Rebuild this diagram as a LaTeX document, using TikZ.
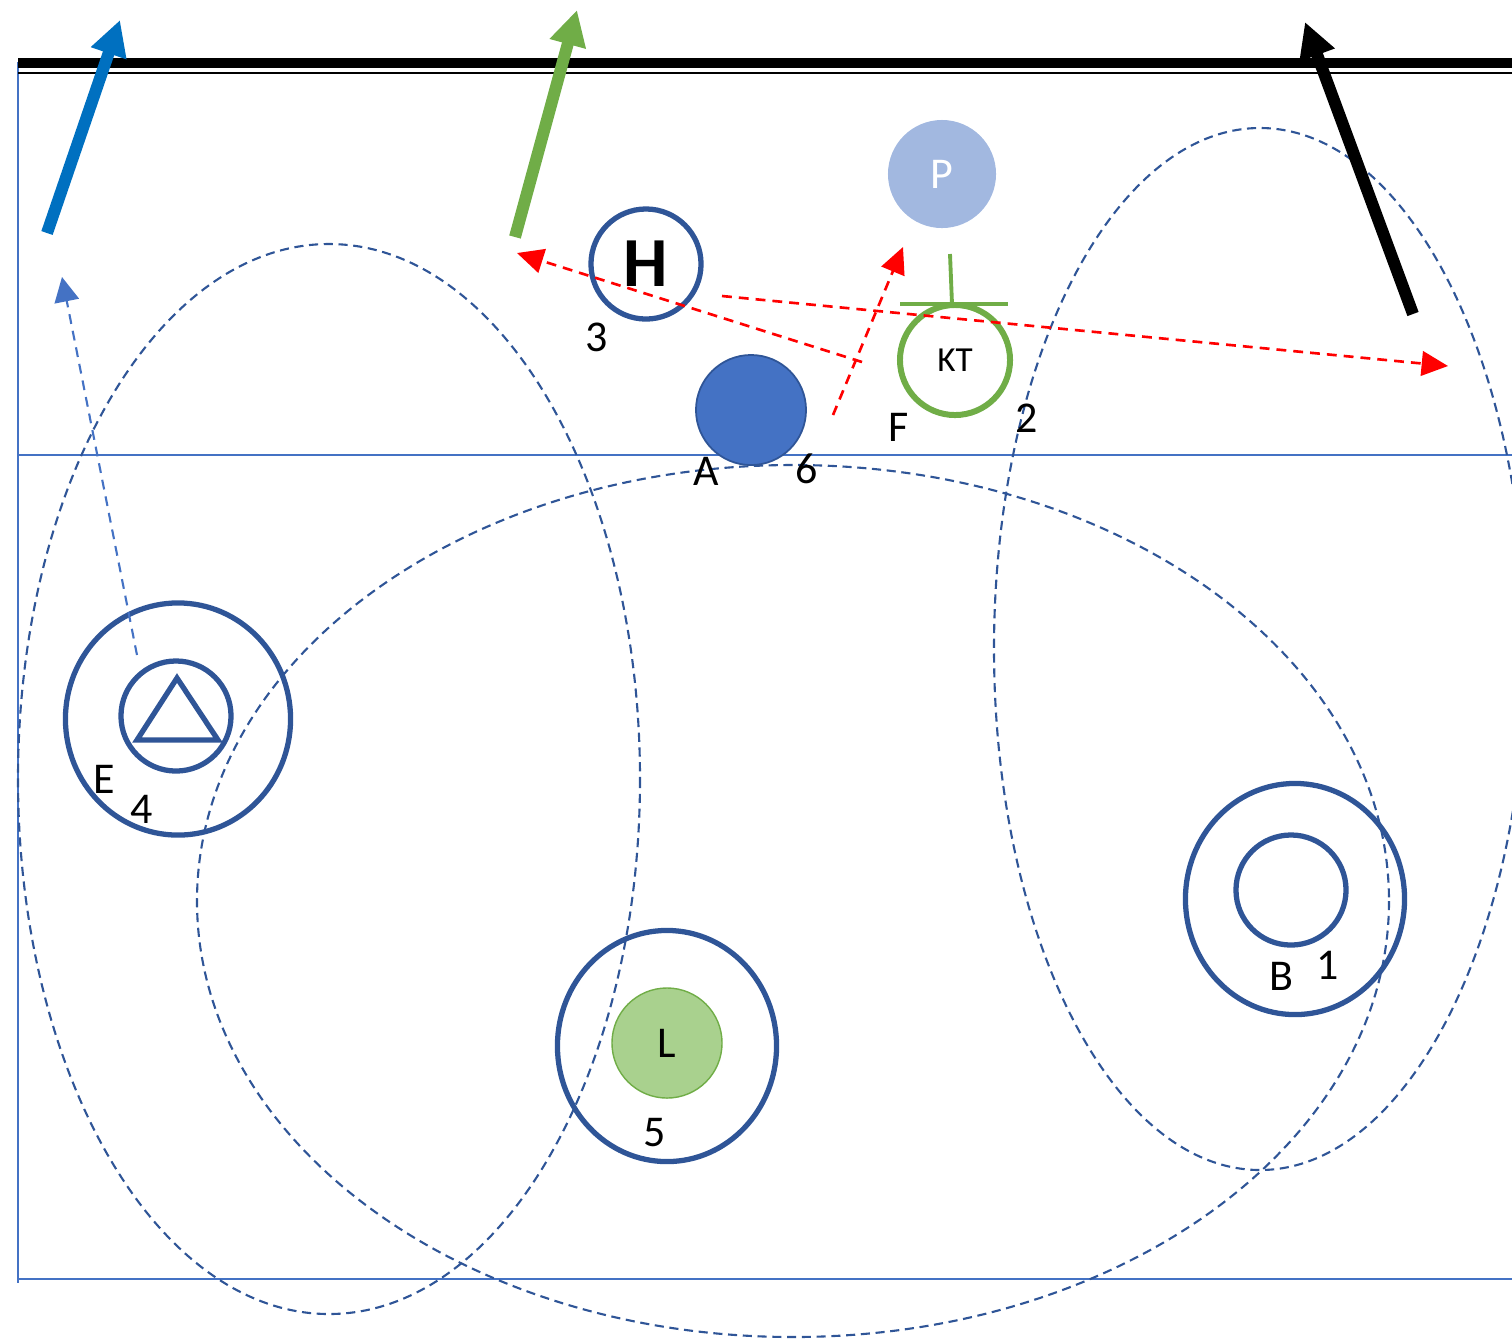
\documentclass[tikz,border=0pt]{standalone}
\usepackage{fontspec}
\setmainfont{Carlito}
\usepackage{xcolor}
\usetikzlibrary{arrows.meta,shapes.geometric,positioning}
\definecolor{ringblue}{HTML}{2F5597}
\definecolor{edgeblue}{HTML}{4472C4}
\definecolor{pfill}{HTML}{A2B8E0}
\definecolor{afill}{HTML}{4472C4}
\definecolor{ktgreen}{HTML}{70AD47}
\definecolor{lfill}{HTML}{A9D18E}
\definecolor{bluearrow}{HTML}{0070C0}
\tikzset{
  ring/.style={ellipse, draw=ringblue, line width=1.5pt, inner sep=0pt},
  orbit/.style={draw=ringblue, line width=0.6pt, dash pattern=on 2.6pt off 1.6pt},
  lbl/.style={font=\fontsize{12.5}{14}\selectfont, inner sep=0pt},
  reddash/.style={draw=red, line width=0.75pt, dash pattern=on 2.8pt off 2pt, -{Triangle[length=7.5pt,width=7pt]}},
  bigarrow/.style={line width=3.4pt, -{Triangle[length=10pt,width=10pt]}},
  edgeline/.style={draw=edgeblue, line width=0.4pt}
}

\begin{document}
\begin{tikzpicture}[x=0.01cm, y=-0.01cm]
\useasboundingbox (0,0) rectangle (1512,1341);
\draw[edgeline] (18,62) -- (18,1283);
\draw[edgeline] (18,455) -- (1512,455);
\draw[edgeline] (18,1279) -- (1512,1279);
\draw[line width=2.8pt] (18,63) -- (1512,63);
\draw[line width=0.7pt] (18,73) -- (1512,73);
% dashed orbits
\draw[orbit] (329,779) ellipse [x radius=311, y radius=535];
\draw[orbit] (793,901) ellipse [x radius=596, y radius=436];
\draw[orbit] (1260,649) ellipse [x radius=266, y radius=521];
% rings
\node[ring, minimum width=2.25cm, minimum height=2.32cm] (Eout) at (178,719) {};
\node[ring, minimum width=1.1cm, minimum height=1.1cm] (Ein) at (176,716) {};
\draw[ringblue, line width=1.5pt, line join=miter] (137,740) -- (177,678) -- (218,740) -- cycle;
\node[ring, minimum width=2.19cm, minimum height=2.31cm] (Lout) at (667,1046) {};
\node[circle, fill=lfill, draw=ktgreen, line width=0.4pt, minimum size=1.1cm, lbl] (L) at (667,1043) {L};
\node[ring, minimum width=2.19cm, minimum height=2.31cm] (Bout) at (1295,899) {};
\node[ring, minimum width=1.1cm, minimum height=1.1cm] (Bin) at (1291,890) {};
\node[circle, draw=ringblue, line width=1.5pt, minimum size=1.1cm, inner sep=0pt,
  font=\fontsize{20}{22}\selectfont\bfseries] (H) at (646,264) {H};
\node[circle, fill=pfill, minimum size=1.08cm, lbl, text=white] (P) at (942,174) {P};
\node[circle, fill=afill, draw=ringblue, line width=0.5pt, minimum size=1.1cm] (A) at (751,410) {};
\node[circle, draw=ktgreen, line width=1.7pt, minimum size=1.1cm, inner sep=0pt,
  font=\fontsize{10}{12}\selectfont] (KT) at (955,360) {KT};
\draw[ktgreen, line width=1.1pt] (900,304) -- (1008,304);
\draw[ktgreen, line width=1.1pt] (950,254) -- (952,304);
% labels
\node[lbl] (n3) at (597,337) {3};
\node[lbl] (lA) at (706,471) {A};
\node[lbl] (n6) at (807,469) {6};
\node[lbl] (lF) at (899,427) {F};
\node[lbl] (n2) at (1027,418) {2};
\node[lbl] (lE) at (104,779) {E};
\node[lbl] (n4) at (142,809) {4};
\node[lbl] (n5) at (655,1133) {5};
\node[lbl] (lB) at (1281,976) {B};
\node[lbl] (n1) at (1328,965) {1};
% thick arrows
\coordinate (blueS) at (47,233);
\coordinate (blueE) at (120,20);
\coordinate (greenS) at (515,237);
\coordinate (greenE) at (577,10);
\coordinate (blackS) at (1413,314);
\coordinate (blackE) at (1305,22);
\draw[bigarrow, bluearrow] (blueS) -- (blueE);
\draw[bigarrow, ktgreen] (greenS) -- (greenE);
\draw[bigarrow, black] (blackS) -- (blackE);
% dashed moves
\coordinate (eS) at (137,655);
\coordinate (eE) at (62,277);
\draw[edgeblue, line width=0.6pt, dash pattern=on 2.8pt off 2pt,
  -{Triangle[length=7pt,width=7pt]}] (eS) -- (eE);
\coordinate (r1S) at (862,362);
\coordinate (r1E) at (517,253);
\coordinate (r2S) at (833,415);
\coordinate (r2E) at (903,247);
\coordinate (r3S) at (722,296);
\coordinate (r3E) at (1448,366);
\draw[reddash] (r1S) -- (r1E);
\draw[reddash] (r2S) -- (r2E);
\draw[reddash] (r3S) -- (r3E);
\end{tikzpicture}
\end{document}
